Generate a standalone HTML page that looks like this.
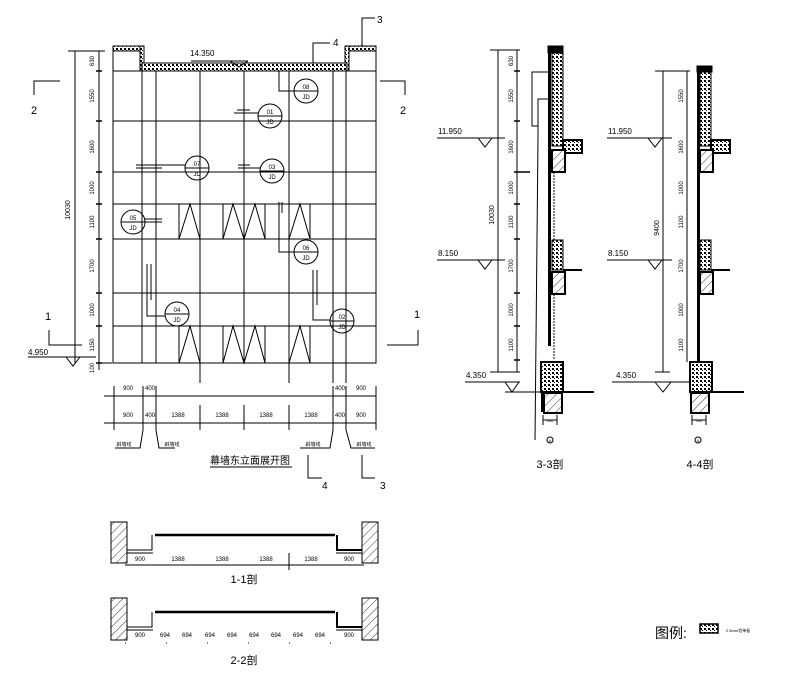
<!DOCTYPE html>
<html><head><meta charset="utf-8"><style>
html,body{margin:0;padding:0;background:#fff;}
svg{display:block;font-family:"Liberation Sans","Noto Sans CJK SC",sans-serif;}
.t{font-size:8px;fill:#000;}
.s{font-size:6px;fill:#000;}
</style></head><body>
<svg width="800" height="673" viewBox="0 0 800 673" xmlns="http://www.w3.org/2000/svg">
<defs>
<pattern id="dots" width="4" height="4" patternUnits="userSpaceOnUse"><rect width="4" height="4" fill="#fff"/><rect width="2" height="2" fill="#000"/><rect x="2" y="2" width="1" height="1" fill="#000"/></pattern>
<pattern id="hatch" width="6" height="6" patternUnits="userSpaceOnUse" patternTransform="rotate(45)"><rect width="6" height="6" fill="#fff"/><line x1="0" y1="0" x2="0" y2="6" stroke="#000" stroke-width="0.8"/></pattern>
</defs>
<g stroke="#000" fill="none" stroke-width="1">
<rect x="113" y="71" width="263" height="292"/>
<line x1="113" y1="46" x2="113" y2="71"/><line x1="376" y1="46" x2="376" y2="71"/>
<rect x="113" y="46" width="30" height="5" fill="url(#dots)"/>
<rect x="346" y="46" width="30" height="5" fill="url(#dots)"/>
<rect x="140" y="46" width="4" height="25" fill="url(#dots)"/>
<rect x="345" y="46" width="4" height="25" fill="url(#dots)"/>
<rect x="142" y="63" width="205" height="8" fill="url(#dots)"/>
<line x1="113" y1="121" x2="376" y2="121"/><line x1="113" y1="172" x2="376" y2="172"/>
<line x1="113" y1="204" x2="376" y2="204"/><line x1="113" y1="239" x2="376" y2="239"/>
<line x1="113" y1="293" x2="376" y2="293"/><line x1="113" y1="326" x2="376" y2="326"/>
<line x1="142" y1="71" x2="142" y2="363"/><line x1="156" y1="71" x2="156" y2="363"/>
<line x1="200" y1="71" x2="200" y2="383"/><line x1="244" y1="71" x2="244" y2="363"/>
<line x1="289" y1="71" x2="289" y2="383"/><line x1="333" y1="71" x2="333" y2="383"/>
<line x1="346" y1="71" x2="346" y2="383"/>
<g>
<line x1="179" y1="204" x2="179" y2="239"/><line x1="223" y1="204" x2="223" y2="239"/><line x1="265" y1="204" x2="265" y2="239"/><line x1="310" y1="204" x2="310" y2="239"/>
<polyline points="179,239 190,204 200,239"/><polyline points="223,239 233,204 244,239 255,204 265,239"/><polyline points="289,239 300,204 310,239"/>
<line x1="179" y1="326" x2="179" y2="363"/><line x1="223" y1="326" x2="223" y2="363"/><line x1="265" y1="326" x2="265" y2="363"/><line x1="310" y1="326" x2="310" y2="363"/>
<polyline points="179,363 190,326 200,363"/><polyline points="223,363 233,326 244,363 255,326 265,363"/><polyline points="289,363 300,326 310,363"/>
</g>
<g>
<circle cx="306" cy="91" r="12"/><line x1="294" y1="91" x2="318" y2="91"/>
<circle cx="270" cy="116" r="12"/><line x1="258" y1="116" x2="282" y2="116"/>
<circle cx="197" cy="168" r="12"/><line x1="185" y1="168" x2="209" y2="168"/>
<circle cx="272" cy="171" r="12"/><line x1="260" y1="171" x2="284" y2="171"/>
<circle cx="133" cy="222" r="12"/><line x1="121" y1="222" x2="145" y2="222"/>
<circle cx="306" cy="252" r="12"/><line x1="294" y1="252" x2="318" y2="252"/>
<circle cx="177" cy="314" r="12"/><line x1="165" y1="314" x2="189" y2="314"/>
<circle cx="342" cy="321" r="12"/><line x1="330" y1="321" x2="354" y2="321"/>
</g>
<polyline points="279,71 279,91 294,91"/><line x1="279" y1="73" x2="279" y2="80"/>
<line x1="234" y1="113" x2="258" y2="113"/><line x1="237" y1="110" x2="250" y2="110"/>
<line x1="136" y1="165" x2="185" y2="165"/><line x1="136" y1="168" x2="162" y2="168"/>
<line x1="238" y1="168" x2="260" y2="168"/><line x1="238" y1="165" x2="250" y2="165"/>
<line x1="145" y1="219" x2="162" y2="219"/><line x1="145" y1="222" x2="162" y2="222"/>
<polyline points="279,202 279,252 294,252"/><line x1="282" y1="202" x2="282" y2="213"/>
<polyline points="147,264 147,316 165,316"/><line x1="151" y1="264" x2="151" y2="300"/>
<polyline points="313,270 313,320 330,320"/><line x1="317" y1="270" x2="317" y2="305"/>
<line x1="191" y1="61" x2="248" y2="61"/><polyline points="230,61 239,67 248,61"/>
<polyline points="362,47 362,18 375,18"/>
<polyline points="313,63 313,43 330,43"/>
<polyline points="34,95 34,81 60,81"/>
<polyline points="380,81 405,81 405,95"/>
<polyline points="49,330 49,345 82,345"/>
<polyline points="387,345 418,345 418,330"/>
<line x1="75" y1="51" x2="75" y2="363"/><line x1="68" y1="51" x2="105" y2="51"/>
<line x1="99" y1="51" x2="99" y2="370"/>
<g stroke-width="1.5">
<line x1="96" y1="71" x2="102" y2="71"/><line x1="96" y1="121" x2="102" y2="121"/><line x1="96" y1="172" x2="102" y2="172"/><line x1="96" y1="204" x2="102" y2="204"/><line x1="96" y1="239" x2="102" y2="239"/><line x1="96" y1="293" x2="102" y2="293"/><line x1="96" y1="326" x2="102" y2="326"/><line x1="96" y1="363" x2="102" y2="363"/>
</g>
<line x1="99" y1="363" x2="112" y2="363"/>
<line x1="28" y1="357" x2="96" y2="357"/><polyline points="66,357 73,366 80,357"/>
<line x1="104" y1="396" x2="376" y2="396"/><line x1="104" y1="423" x2="376" y2="423"/>
<line x1="114" y1="386" x2="114" y2="430"/><line x1="143" y1="386" x2="143" y2="430"/><line x1="156" y1="386" x2="156" y2="430"/>
<line x1="200" y1="405" x2="200" y2="430"/><line x1="244" y1="405" x2="244" y2="430"/><line x1="289" y1="405" x2="289" y2="430"/>
<line x1="333" y1="386" x2="333" y2="430"/><line x1="346" y1="386" x2="346" y2="430"/><line x1="376" y1="386" x2="376" y2="430"/>
<polyline points="115,448 140,448 143,430"/><polyline points="175,448 159,448 156,430"/>
<polyline points="300,448 330,448 333,430"/><polyline points="375,448 351,448 346,430"/>
<polyline points="308,455 308,478 322,478"/><polyline points="362,455 362,478 375,478"/>
<line x1="210" y1="467" x2="292" y2="467"/>
<rect x="111" y="522" width="16" height="41" fill="url(#hatch)"/>
<rect x="362" y="522" width="16" height="41" fill="url(#hatch)"/>
<line x1="155" y1="535" x2="335" y2="535" stroke-width="2.5"/>
<polyline points="127,550 152,550 152,535"/><polyline points="362,550 337,550 337,535" stroke-width="2"/>
<line x1="127" y1="553" x2="153" y2="553"/><line x1="336" y1="553" x2="362" y2="553"/>
<line x1="125" y1="565" x2="364" y2="565"/><line x1="289" y1="553" x2="289" y2="570"/>
<rect x="111" y="598" width="16" height="42" fill="url(#hatch)"/>
<rect x="362" y="598" width="16" height="42" fill="url(#hatch)"/>
<line x1="155" y1="612" x2="335" y2="612" stroke-width="2.5"/>
<polyline points="127,627 152,627 152,612"/><polyline points="362,627 337,627 337,612" stroke-width="2"/>
<line x1="127" y1="630" x2="153" y2="630"/><line x1="336" y1="630" x2="362" y2="630"/>
<line x1="125" y1="643" x2="364" y2="643" stroke-dasharray="1 40"/>
<line x1="498" y1="50" x2="498" y2="372"/><line x1="490" y1="50" x2="520" y2="50"/><line x1="490" y1="372" x2="520" y2="372"/>
<line x1="517" y1="50" x2="517" y2="372"/>
<g stroke-width="1.5"><line x1="514" y1="71" x2="520" y2="71"/><line x1="514" y1="121" x2="520" y2="121"/><line x1="514" y1="172" x2="530" y2="172"/><line x1="514" y1="204" x2="520" y2="204"/><line x1="514" y1="239" x2="520" y2="239"/><line x1="514" y1="293" x2="520" y2="293"/><line x1="514" y1="326" x2="520" y2="326"/><line x1="514" y1="360" x2="520" y2="360"/></g>
<line x1="437" y1="138" x2="505" y2="138"/><polyline points="478,138 485,147 492,138"/>
<line x1="437" y1="260" x2="505" y2="260"/><polyline points="478,260 485,269 492,260"/>
<line x1="465" y1="382" x2="520" y2="382"/><polyline points="505,382 512,392 519,382"/>
<line x1="505" y1="392" x2="545" y2="392"/>
<rect x="548" y="46" width="3" height="300" fill="#000" stroke="none"/>
<rect x="552" y="46" width="11" height="100" fill="url(#dots)"/>
<rect x="548" y="46" width="15" height="7" fill="#000"/>
<rect x="563" y="140" width="19" height="13" fill="url(#dots)" stroke-width="2"/>
<rect x="552" y="150" width="13" height="22" fill="url(#hatch)" stroke-width="2"/>
<rect x="552" y="240" width="11" height="30" fill="url(#dots)"/>
<line x1="563" y1="270" x2="582" y2="270" stroke-width="2"/>
<rect x="552" y="272" width="13" height="22" fill="url(#hatch)" stroke-width="2"/>
<line x1="554" y1="172" x2="554" y2="240" stroke-dasharray="2 1"/><line x1="554" y1="294" x2="554" y2="360" stroke-dasharray="2 1"/>
<rect x="541" y="362" width="5" height="50" fill="#000" stroke="none"/>
<rect x="541" y="362" width="22" height="30" fill="url(#dots)" stroke-width="2"/>
<line x1="563" y1="392" x2="594" y2="392" stroke-width="2"/>
<rect x="544" y="393" width="18" height="20" fill="url(#hatch)" stroke-width="2"/>
<polyline points="548,72 532,72 532,126 538,126"/><polyline points="548,99 538,99 538,138 535,440"/>
<line x1="543" y1="420" x2="557" y2="420"/><line x1="543" y1="415" x2="543" y2="425"/><line x1="557" y1="415" x2="557" y2="425"/>
<circle cx="550" cy="440" r="3"/>
<line x1="663" y1="71" x2="663" y2="372"/><line x1="655" y1="71" x2="690" y2="71"/><line x1="655" y1="372" x2="670" y2="372"/>
<line x1="687" y1="71" x2="687" y2="362"/>
<line x1="607" y1="138" x2="672" y2="138"/><polyline points="648,138 655,147 662,138"/>
<line x1="607" y1="260" x2="672" y2="260"/><polyline points="648,260 655,269 662,260"/>
<line x1="612" y1="382" x2="690" y2="382"/><polyline points="655,382 663,392 671,382"/>
<rect x="697" y="66" width="3" height="300" fill="#000" stroke="none"/>
<rect x="700" y="66" width="11" height="80" fill="url(#dots)"/>
<rect x="697" y="66" width="15" height="6" fill="#000"/>
<rect x="711" y="140" width="19" height="13" fill="url(#dots)" stroke-width="2"/>
<rect x="700" y="150" width="13" height="22" fill="url(#hatch)" stroke-width="2"/>
<rect x="700" y="240" width="11" height="30" fill="url(#dots)"/>
<line x1="711" y1="270" x2="730" y2="270" stroke-width="2"/>
<rect x="700" y="272" width="13" height="22" fill="url(#hatch)" stroke-width="2"/>
<rect x="690" y="362" width="22" height="30" fill="url(#dots)" stroke-width="2"/>
<line x1="712" y1="392" x2="744" y2="392" stroke-width="2"/>
<rect x="691" y="393" width="18" height="20" fill="url(#hatch)" stroke-width="2"/>
<line x1="692" y1="420" x2="706" y2="420"/><line x1="692" y1="415" x2="692" y2="425"/><line x1="706" y1="415" x2="706" y2="425"/>
<circle cx="698" cy="440" r="3"/>
<rect x="700" y="624" width="18" height="9" fill="url(#dots)" stroke-width="1.5"/>
</g>
<g class="t">
<text x="190" y="56">14.350</text>
<text x="377" y="23" font-size="10">3</text><text x="333" y="46" font-size="10">4</text>
<text x="31" y="114" font-size="11">2</text><text x="400" y="114" font-size="11">2</text>
<text x="45" y="320" font-size="11">1</text><text x="414" y="318" font-size="11">1</text>
<text x="28" y="355">4.950</text>
<text x="306" y="89" class="s" text-anchor="middle">08</text><text x="306" y="99" class="s" text-anchor="middle">JD</text>
<text x="270" y="114" class="s" text-anchor="middle">01</text><text x="270" y="124" class="s" text-anchor="middle">JD</text>
<text x="197" y="166" class="s" text-anchor="middle">07</text><text x="197" y="176" class="s" text-anchor="middle">JD</text>
<text x="272" y="169" class="s" text-anchor="middle">03</text><text x="272" y="179" class="s" text-anchor="middle">JD</text>
<text x="133" y="220" class="s" text-anchor="middle">05</text><text x="133" y="230" class="s" text-anchor="middle">JD</text>
<text x="306" y="250" class="s" text-anchor="middle">06</text><text x="306" y="260" class="s" text-anchor="middle">JD</text>
<text x="177" y="312" class="s" text-anchor="middle">04</text><text x="177" y="322" class="s" text-anchor="middle">JD</text>
<text x="342" y="319" class="s" text-anchor="middle">02</text><text x="342" y="329" class="s" text-anchor="middle">JD</text>
<g class="s">
<text transform="translate(94,61) rotate(-90)" text-anchor="middle">630</text>
<text transform="translate(94,96) rotate(-90)" text-anchor="middle">1550</text>
<text transform="translate(94,147) rotate(-90)" text-anchor="middle">1600</text>
<text transform="translate(94,188) rotate(-90)" text-anchor="middle">1000</text>
<text transform="translate(94,222) rotate(-90)" text-anchor="middle">1100</text>
<text transform="translate(94,266) rotate(-90)" text-anchor="middle">1700</text>
<text transform="translate(94,310) rotate(-90)" text-anchor="middle">1000</text>
<text transform="translate(94,345) rotate(-90)" text-anchor="middle">1150</text>
<text transform="translate(94,368) rotate(-90)" text-anchor="middle">100</text>
</g>
<text transform="translate(70,210) rotate(-90)" text-anchor="middle" font-size="7">10030</text>
<g class="s" text-anchor="middle">
<text x="128" y="390">900</text><text x="150" y="390">400</text><text x="340" y="390">400</text><text x="361" y="390">900</text>
<text x="128" y="417">900</text><text x="150" y="417">400</text><text x="178" y="417">1388</text><text x="222" y="417">1388</text><text x="266" y="417">1388</text><text x="311" y="417">1388</text><text x="340" y="417">400</text><text x="361" y="417">900</text>
<text x="124" y="446" font-size="5">斜墙线</text><text x="172" y="446" font-size="5">斜墙线</text><text x="313" y="446" font-size="5">斜墙线</text><text x="364" y="446" font-size="5">斜墙线</text>
</g>
<text x="322" y="489" font-size="10">4</text><text x="380" y="489" font-size="10">3</text>
<text x="250" y="464" font-size="10" text-anchor="middle">幕墙东立面展开图</text>
<g class="s" text-anchor="middle">
<text x="140" y="561">900</text><text x="178" y="561">1388</text><text x="222" y="561">1388</text><text x="266" y="561">1388</text><text x="311" y="561">1388</text><text x="349" y="561">900</text>
<text x="140" y="637">900</text><text x="165" y="637">694</text><text x="187" y="637">694</text><text x="210" y="637">694</text><text x="232" y="637">694</text><text x="254" y="637">694</text><text x="276" y="637">694</text><text x="298" y="637">694</text><text x="320" y="637">694</text><text x="349" y="637">900</text>
</g>
<text x="244" y="583" font-size="11" text-anchor="middle">1-1剖</text>
<text x="244" y="664" font-size="11" text-anchor="middle">2-2剖</text>
<text x="438" y="134">11.950</text><text x="438" y="256">8.150</text><text x="466" y="378">4.350</text>
<text x="608" y="134">11.950</text><text x="608" y="256">8.150</text><text x="616" y="378">4.350</text>
<g class="s">
<text transform="translate(513,61) rotate(-90)" text-anchor="middle">630</text>
<text transform="translate(513,96) rotate(-90)" text-anchor="middle">1550</text>
<text transform="translate(513,147) rotate(-90)" text-anchor="middle">1600</text>
<text transform="translate(513,188) rotate(-90)" text-anchor="middle">1000</text>
<text transform="translate(513,222) rotate(-90)" text-anchor="middle">1100</text>
<text transform="translate(513,266) rotate(-90)" text-anchor="middle">1700</text>
<text transform="translate(513,310) rotate(-90)" text-anchor="middle">1000</text>
<text transform="translate(513,345) rotate(-90)" text-anchor="middle">1100</text>
<text transform="translate(683,96) rotate(-90)" text-anchor="middle">1550</text>
<text transform="translate(683,147) rotate(-90)" text-anchor="middle">1600</text>
<text transform="translate(683,188) rotate(-90)" text-anchor="middle">1000</text>
<text transform="translate(683,222) rotate(-90)" text-anchor="middle">1100</text>
<text transform="translate(683,266) rotate(-90)" text-anchor="middle">1700</text>
<text transform="translate(683,310) rotate(-90)" text-anchor="middle">1000</text>
<text transform="translate(683,345) rotate(-90)" text-anchor="middle">1100</text>
</g>
<text transform="translate(494,215) rotate(-90)" text-anchor="middle" font-size="7">10030</text>
<text transform="translate(659,228) rotate(-90)" text-anchor="middle" font-size="7">9400</text>
<text x="550" y="422" font-size="4" text-anchor="middle">450</text><text x="699" y="422" font-size="4" text-anchor="middle">450</text>
<text x="550" y="442" font-size="4" text-anchor="middle">A</text><text x="698" y="442" font-size="4" text-anchor="middle">A</text>
<text x="550" y="468" font-size="11" text-anchor="middle">3-3剖</text>
<text x="700" y="468" font-size="11" text-anchor="middle">4-4剖</text>
<text x="655" y="638" font-size="14">图例:</text>
<text x="726" y="632" font-size="4">2.5mm铝单板</text>
</g>
</svg>
</body></html>
